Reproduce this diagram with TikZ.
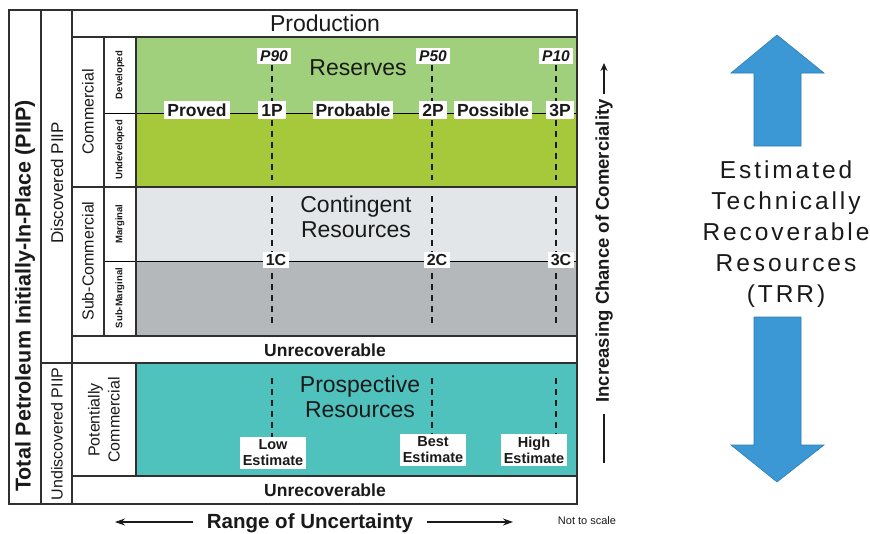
\documentclass[tikz,border=0pt]{standalone}
\usepackage{fontspec}
\setmainfont{Liberation Sans}
\usetikzlibrary{arrows.meta}
\definecolor{lgreen}{HTML}{A0D07C}
\definecolor{dgreen}{HTML}{A6C83B}
\definecolor{lgrey}{HTML}{E2E6E9}
\definecolor{dgrey}{HTML}{B4B8BA}
\definecolor{tealc}{HTML}{50C2BE}
\definecolor{bluearr}{HTML}{3B98D4}
\definecolor{bluedge}{HTML}{2E7DB5}
\definecolor{frame}{HTML}{303030}
\definecolor{txt}{HTML}{1A1A1A}
\tikzset{
  frm/.style={draw=frame,line width=1.6pt},
  thinl/.style={draw=black,line width=0.8pt},
  dashl/.style={draw=txt,line width=1.6pt,dash pattern=on 6pt off 5pt},
  lbl/.style={fill=white,inner xsep=3pt,inner ysep=2.5pt,text=txt,font=\fontsize{17.5}{19}\selectfont\bfseries},
  plbl/.style={fill=white,inner xsep=3pt,inner ysep=3pt,text=txt,font=\fontsize{15.5}{17}\selectfont\bfseries\itshape},
  clbl/.style={fill=white,inner sep=2.5pt,text=txt,font=\fontsize{16}{18}\selectfont\bfseries},
  elbl/.style={fill=white,inner sep=3pt,text=txt,align=center,font=\fontsize{14.5}{16}\selectfont\bfseries},
  big/.style={text=txt,align=center,font=\fontsize{23}{25}\selectfont},
  unr/.style={text=txt,font=\fontsize{17.5}{19}\selectfont\bfseries},
  side/.style={text=txt,rotate=90,align=center,font=\fontsize{16}{20}\selectfont},
  tiny/.style={text=txt,rotate=90,font=\fontsize{9.5}{10}\selectfont\bfseries},
  blarrow/.style={fill=bluearr,draw=bluedge,line width=0.6pt}
}
\begin{document}
\begin{tikzpicture}[x=1pt,y=-1pt]
\useasboundingbox (0,0) rectangle (870,533);
\fill[white] (0,0) rectangle (870,533);
% fills
\fill[lgreen] (136,37) rectangle (577,113);
\fill[dgreen] (136,113) rectangle (577,187);
\fill[lgrey] (136,187) rectangle (577,261);
\fill[dgrey] (136,261) rectangle (577,336);
\fill[tealc] (136,363) rectangle (577,476);
% thin dividers
\draw[thinl] (104,113) -- (577,113);
\draw[thinl] (104,261) -- (577,261);
% frame
\draw[frm] (9,10) rectangle (577,504);
\draw[frm] (41,10) -- (41,504);
\draw[frm] (72,10) -- (72,504);
\draw[frm] (72,37) -- (577,37);
\draw[frm] (72,187) -- (577,187);
\draw[frm] (72,336) -- (577,336);
\draw[frm] (41,363) -- (577,363);
\draw[frm] (72,476) -- (577,476);
\draw[frm] (104,37) -- (104,336);
\draw[frm] (136,37) -- (136,336);
\draw[frm] (136,363) -- (136,476);
% texts
\node[big] (prod) at (325,23) {Production};
\node[big] (res) at (358,68) {Reserves};
\node[big] (cont) at (356,217) {Contingent\\Resources};
\node[big] (pros) at (360,397) {Prospective\\Resources};
\node[unr] (unr1) at (325,350) {Unrecoverable};
\node[unr] (unr2) at (325,490) {Unrecoverable};
\node[side] (comm) at (88,112) {Commercial};
\node[side] (subc) at (88,261) {Sub-Commercial};
\node[side] (potc) at (104,420) {Potentially\\Commercial};
\node[tiny] (dev) at (120,75) {Developed};
\node[tiny] (undev) at (120,150) {Undeveloped};
\node[tiny] (marg) at (120,224) {Marginal};
\node[tiny] (submarg) at (120,298) {Sub-Marginal};
\node[side,font=\fontsize{17}{20}\selectfont] (disc) at (57,183) {Discovered PIIP};
\node[side] (undisc) at (57,434) {Undiscovered PIIP};
\node[side,font=\fontsize{21.5}{23}\selectfont\bfseries] (total) at (25,296) {Total Petroleum Initially-In-Place (PIIP)};
% dashed lines
\coordinate (d1a) at (272,180); \coordinate (d2a) at (432,180); \coordinate (d3a) at (556,180);
\coordinate (c1t) at (272,196); \coordinate (c1b) at (272,327);
\coordinate (c2t) at (432,196); \coordinate (c2b) at (432,327);
\coordinate (c3t) at (556,196); \coordinate (c3b) at (556,327);
\coordinate (e1t) at (272,378); \coordinate (e2t) at (432,378); \coordinate (e3t) at (556,378);
\node[plbl] (p90) at (274,56) {P90};
\node[plbl] (p50) at (433,56) {P50};
\node[plbl] (p10) at (556,56) {P10};
\node[elbl] (low) at (273,453) {Low\\Estimate};
\node[elbl] (best) at (433,450) {Best\\Estimate};
\node[elbl] (high) at (534,450) {High\\Estimate};
\draw[dashl] (p90.south -| d1a) -- (d1a);
\draw[dashl] (p50.south -| d2a) -- (d2a);
\draw[dashl] (p10.south -| d3a) -- (d3a);
\draw[dashl] (c1t) -- (c1b);
\draw[dashl] (c2t) -- (c2b);
\draw[dashl] (c3t) -- (c3b);
\draw[dashl] (e1t) -- (e1t |- low.north);
\draw[dashl] (e2t) -- (e2t |- best.north);
\draw[dashl] (e3t) -- (e3t |- high.north);
\node[lbl] (proved) at (197,110) {Proved};
\node[lbl] (p1) at (272,110) {1P};
\node[lbl] (probable) at (353,110) {Probable};
\node[lbl] (p2) at (433,110) {2P};
\node[lbl] (possible) at (493,110) {Possible};
\node[lbl] (p3) at (560,110) {3P};
\node[clbl] (c1) at (276,260) {1C};
\node[clbl] (c2) at (437,260) {2C};
\node[clbl] (c3) at (561,260) {3C};
% increasing chance
\node[text=txt,rotate=90,font=\fontsize{18.5}{20}\selectfont\bfseries] (inc) at (604,251) {Increasing Chance of Comerciality};
\coordinate (incarr) at (604,63);
\coordinate (incbot) at (604,463);
\draw[-{Stealth[length=8pt,width=7pt]},line width=1.4pt,txt] (inc.east) ++(0,-2) -- (incarr);
\draw[line width=2pt,txt] (inc.west) ++(0,8) -- (incbot);
% range of uncertainty
\node[text=txt,anchor=base,font=\fontsize{20.5}{22}\selectfont\bfseries] (range) at (310,528) {Range of Uncertainty};
\coordinate (rl) at (115,522); \coordinate (rr) at (513,522);
\draw[-{Stealth[length=10pt,width=7pt]},line width=1.4pt,txt] (rl -| range.west) ++(-10,0) -- (rl);
\draw[-{Stealth[length=10pt,width=7pt]},line width=1.4pt,txt] (rr -| range.east) ++(10,0) -- (rr);
\node[text=txt,font=\fontsize{11}{12}\selectfont] (nts) at (587,521) {Not to scale};
% blue arrows
\draw[blarrow] (777,35) -- (824,73) -- (801,73) -- (801,146) -- (754,146) -- (754,73) -- (731,73) -- cycle;
\draw[blarrow] (754,317) -- (801,317) -- (801,445) -- (824,445) -- (777,482) -- (731,445) -- (754,445) -- cycle;
\node[text=txt,align=center,font=\fontsize{24.5}{31}\selectfont\addfontfeatures{LetterSpace=12}] (trr) at (786,234) {Estimated\\Technically\\Recoverable\\Resources\\(TRR)};
\end{tikzpicture}
\end{document}
